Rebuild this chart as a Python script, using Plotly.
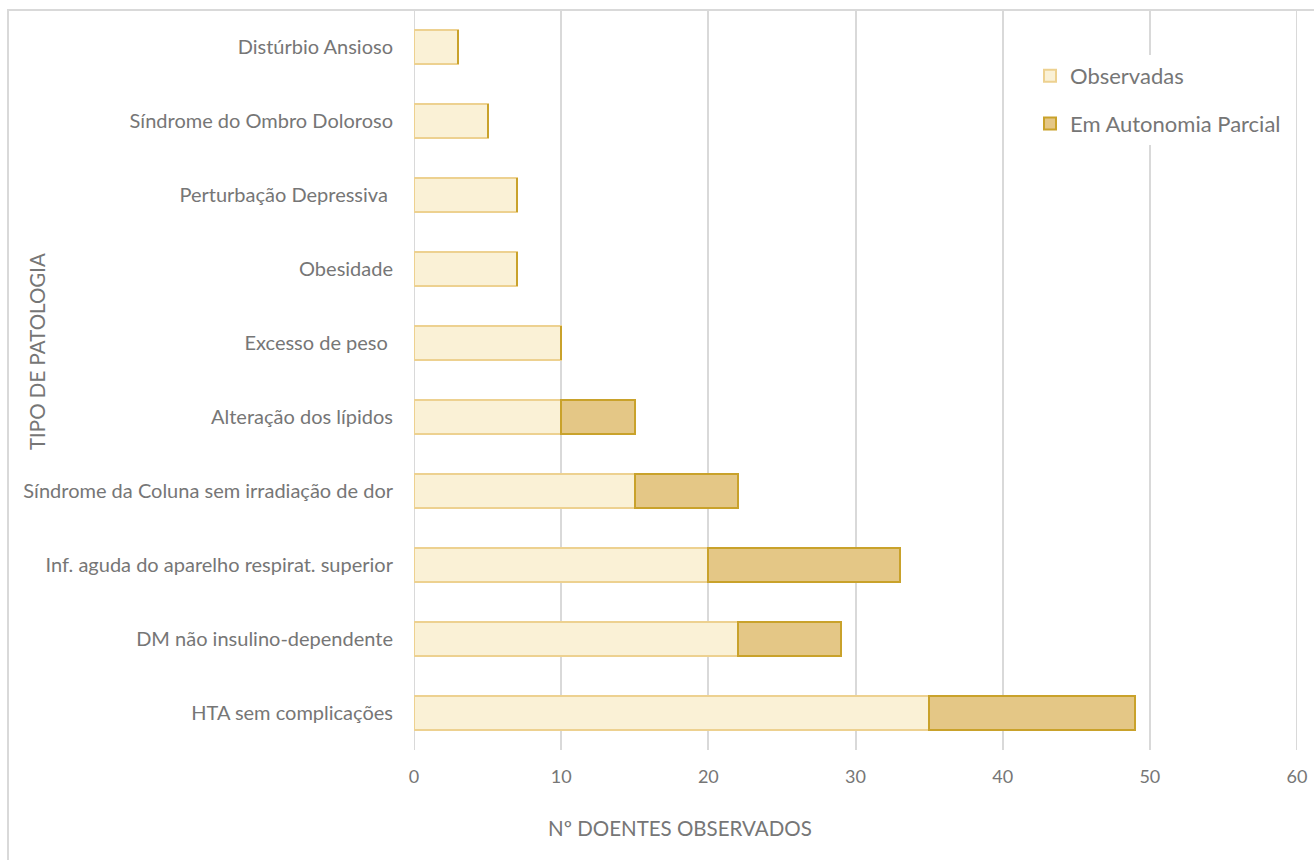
import plotly.graph_objects as go

categories = [
    "HTA sem complicações",
    "DM não insulino-dependente",
    "Inf. aguda do aparelho respirat. superior",
    "Síndrome da Coluna sem irradiação de dor",
    "Alteração dos lípidos",
    "Excesso de peso ",
    "Obesidade",
    "Perturbação Depressiva ",
    "Síndrome do Ombro Doloroso",
    "Distúrbio Ansioso",
]
observadas = [35, 22, 20, 15, 10, 10, 7, 7, 5, 3]
autonomia = [14, 7, 13, 7, 5, 0, 0, 0, 0, 0]
x_ticks = [0, 10, 20, 30, 40, 50, 60]

W, H = 1314, 860
ml, mr, mt, mb = 414, 17, 10, 110
pw = W - ml - mr
ph = H - mt - mb

font_family = "Lato, Open Sans, sans-serif"
gray = "#767676"
grid = "#d9d9d9"

fig = go.Figure()
fig.add_trace(go.Bar(
    y=categories, x=observadas, orientation="h", name="Observadas",
    legendgroup="obs",
    marker=dict(color="#FAF1D6", line=dict(color="#EDD190", width=2)),
    width=0.46,
))
fig.add_trace(go.Bar(
    y=categories, x=autonomia, orientation="h", name="Em Autonomia Parcial",
    legendgroup="aut",
    marker=dict(color="#E4C786", line=dict(color="#C9A22B", width=2)),
    width=0.46,
))

fig.update_layout(
    width=W, height=H,
    barmode="stack",
    plot_bgcolor="white", paper_bgcolor="white",
    margin=dict(l=ml, r=mr, t=mt, b=mb, autoexpand=False),
    font=dict(family=font_family, color=gray, size=20),
    legend=dict(
        x=(1030 - ml) / pw, y=1 - (55 - mt) / ph, xanchor="left", yanchor="top",
        bgcolor="white", font=dict(size=22, color=gray),
        tracegroupgap=16, itemsizing="constant", traceorder="grouped",
        itemwidth=30,
    ),
    xaxis=dict(
        range=[0, 60], tickvals=x_ticks, showgrid=True, gridcolor=grid, gridwidth=2,
        zeroline=False, showline=False, ticks="", tickfont=dict(size=18, color=gray),
        ticklabelstandoff=14,
    ),
    yaxis=dict(
        categoryorder="array", categoryarray=categories, range=[-0.5, 9.5],
        showgrid=False, zeroline=False, showline=False, ticks="",
        tickfont=dict(size=20, color=gray), ticklabelstandoff=20,
    ),
    showlegend=True,
)

# edge gridlines at 0 and 60
for v in (x_ticks[0], x_ticks[-1]):
    fig.add_shape(type="line", xref="x", yref="paper", x0=v, x1=v, y0=0, y1=1,
                  layer="below", line=dict(color=grid, width=2))

# axis titles
fig.add_annotation(text="Nº DOENTES OBSERVADOS", xref="paper", yref="paper",
                   x=(680 - ml) / pw, y=-(828 - mt - ph) / ph, showarrow=False,
                   xanchor="center", yanchor="middle", font=dict(size=20.5, color=gray))
fig.add_annotation(text="TIPO DE PATOLOGIA", xref="paper", yref="paper",
                   x=(37 - ml) / pw, y=1 - (352 - mt) / ph, showarrow=False, textangle=-90,
                   xanchor="center", yanchor="middle", font=dict(size=20.5, color=gray))

# outer chart border (extends past right/bottom edge like the reference)
fig.add_shape(
    type="rect", xref="paper", yref="paper", layer="below",
    x0=(8 - ml) / pw, x1=(W + 20 - ml) / pw,
    y0=-(H + 20 - mt - ph) / ph, y1=1 + (mt - 10) / ph,
    line=dict(color=grid, width=2), fillcolor="rgba(0,0,0,0)",
)

fig.write_html("out.html")
